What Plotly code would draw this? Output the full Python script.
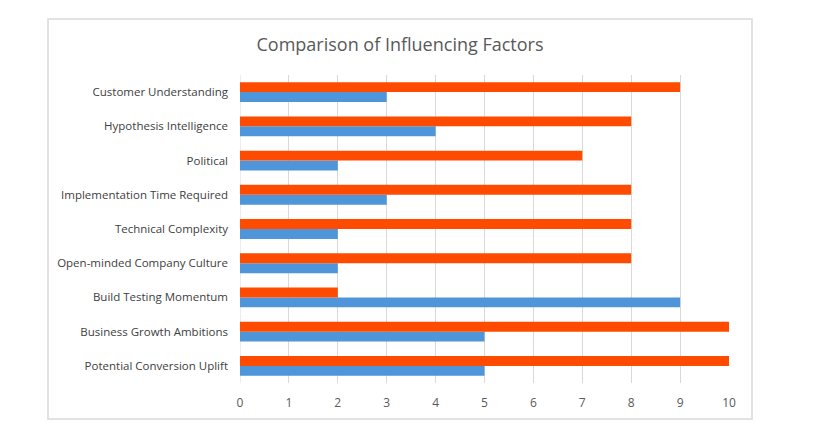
import plotly.graph_objects as go

categories = ["Potential Conversion Uplift", "Business Growth Ambitions", "Build Testing Momentum",
              "Open-minded Company Culture", "Technical Complexity", "Implementation Time Required",
              "Political", "Hypothesis Intelligence", "Customer Understanding"]
blue_values = [5, 5, 9, 2, 2, 3, 2, 4, 3]
orange_values = [10, 10, 2, 8, 8, 8, 7, 8, 9]
tick_vals = list(range(0, 11))

OFF = 8  # page body margin
W, H = 816 - OFF, 446 - OFF
L, T = 240 - OFF, 75 - OFF
pw = 729 - 240
ph = 383 - 75
R = W - L - pw
B = H - T - ph

def px_x(x):
    return (x - OFF - L) / pw

def px_y(y):
    return (T + ph - (y - OFF)) / ph

fig = go.Figure()
fig.add_trace(go.Bar(y=categories, x=blue_values, orientation="h", marker_color="#4E95D9",
                     marker_line_width=0, name="Series 1"))
fig.add_trace(go.Bar(y=categories, x=orange_values, orientation="h", marker_color="#FF4B00",
                     marker_line_width=0, name="Series 2"))

fig.update_layout(
    width=W, height=H,
    margin=dict(l=L, r=R, t=T, b=B),
    barmode="group", bargap=0.42, bargroupgap=0,
    showlegend=False,
    plot_bgcolor="white", paper_bgcolor="white",
    font=dict(family="Open Sans", color="#595959", size=11),
    title=dict(text="Comparison of Influencing Factors", x=(400 - OFF) / W, xanchor="center",
               y=1 - (45 - OFF) / H, yanchor="middle", font=dict(size=18, color="#595959")),
    xaxis=dict(range=[0, 10], tickvals=tick_vals, showgrid=True, gridcolor="#D9D9D9",
               zeroline=False, showline=False, ticks="", ticklabelstandoff=11,
               tickfont=dict(size=12, color="#595959")),
    yaxis=dict(showgrid=False, zeroline=False, showline=False, ticks="", ticklabelstandoff=11,
               tickfont=dict(size=11.5, color="#404040")),
    shapes=[
        dict(type="rect", xref="paper", yref="paper", x0=px_x(48), x1=px_x(752),
             y0=px_y(419), y1=px_y(19), line=dict(color="#D9D9D9", width=1.5), layer="below"),
        dict(type="line", xref="x", yref="paper", x0=0, x1=0, y0=0, y1=1,
             line=dict(color="#D9D9D9", width=1), layer="below"),
    ],
)

fig.write_html("out.html")
